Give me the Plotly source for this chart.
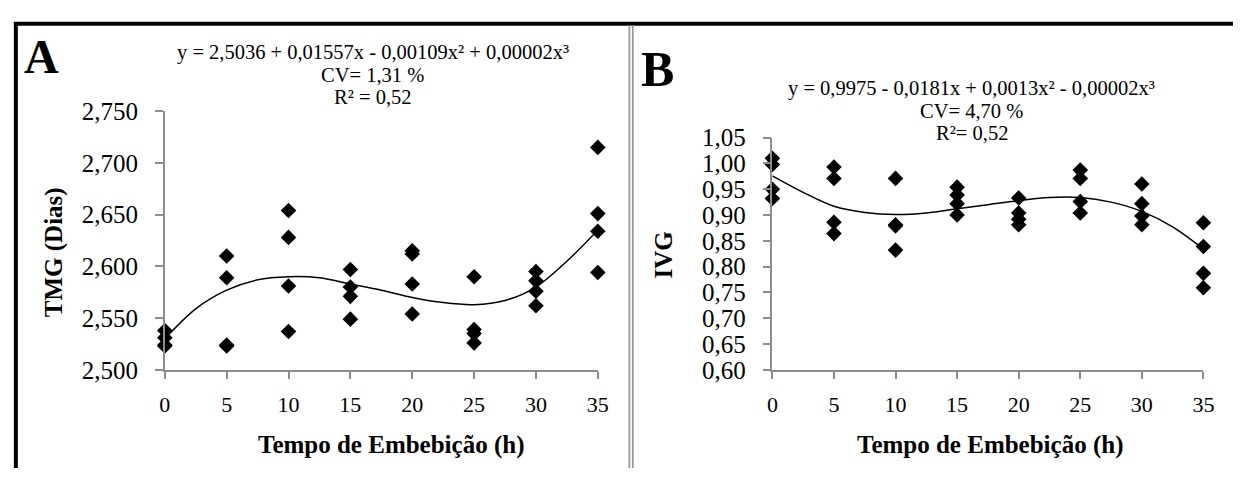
import plotly.graph_objects as go

# ---------------- data ----------------
tempo = [0, 5, 10, 15, 20, 25, 30, 35]

tmg_rep1 = [2.538, 2.610, 2.654, 2.597, 2.615, 2.590, 2.595, 2.715]
tmg_rep2 = [2.531, 2.589, 2.628, 2.580, 2.612, 2.539, 2.586, 2.651]
tmg_rep3 = [2.524, 2.524, 2.581, 2.571, 2.583, 2.535, 2.576, 2.634]
tmg_rep4 = [2.523, 2.523, 2.537, 2.549, 2.554, 2.526, 2.562, 2.594]

ivg_rep1 = [1.010, 0.993, 0.971, 0.954, 0.933, 0.987, 0.960, 0.885]
ivg_rep2 = [0.998, 0.971, 0.881, 0.939, 0.904, 0.971, 0.922, 0.839]
ivg_rep3 = [0.950, 0.886, 0.879, 0.922, 0.892, 0.926, 0.898, 0.787]
ivg_rep4 = [0.932, 0.864, 0.832, 0.900, 0.881, 0.904, 0.881, 0.759]

curve_x = [0, 2.5, 5, 7.5, 10, 12.5, 15, 17.5, 20, 22.5, 25, 27.5, 30, 32.5, 35]
tmg_curve = [2.530, 2.559, 2.577, 2.587, 2.590, 2.589, 2.583, 2.577, 2.570,
             2.565, 2.563, 2.567, 2.580, 2.605, 2.635]
ivg_curve = [0.976, 0.944, 0.917, 0.905, 0.901, 0.904, 0.912, 0.920, 0.928,
             0.934, 0.934, 0.925, 0.907, 0.877, 0.834]

x_ticks = [0, 5, 10, 15, 20, 25, 30, 35]
x_ticktext = ["0", "5", "10", "15", "20", "25", "30", "35"]
tmg_ticks = [2.500, 2.550, 2.600, 2.650, 2.700, 2.750]
tmg_ticktext = ["2,500", "2,550", "2,600", "2,650", "2,700", "2,750"]
ivg_ticks = [0.60, 0.65, 0.70, 0.75, 0.80, 0.85, 0.90, 0.95, 1.00, 1.05]
ivg_ticktext = ["0,60", "0,65", "0,70", "0,75", "0,80", "0,85", "0,90", "0,95", "1,00", "1,05"]

eq_a = ["y = 2,5036 + 0,01557x - 0,00109x² + 0,00002x³", "CV= 1,31 %", "R² = 0,52"]
eq_b = ["y = 0,9975 - 0,0181x + 0,0013x² - 0,00002x³", "CV= 4,70 %", "R²= 0,52"]
x_title = "Tempo de Embebição (h)"
ya_title = "TMG (Dias)"
yb_title = "IVG"

# ---------------- figure ----------------
W, H = 1244, 482
FONT = "Liberation Serif, Times New Roman, serif"
AX = "#8c8c8c"

def px_x(p):
    return p / W

def px_y(p):
    return 1 - p / H

fig = go.Figure()

def add_points(xref, yref, reps):
    xs, ys = [], []
    for r in reps:
        xs += tempo
        ys += r
    fig.add_trace(go.Scatter(x=xs, y=ys, mode="markers", xaxis=xref, yaxis=yref,
                             marker=dict(symbol="diamond", size=12, color="black"),
                             cliponaxis=False, showlegend=False))

add_points("x", "y", [tmg_rep1, tmg_rep2, tmg_rep3, tmg_rep4])
fig.add_trace(go.Scatter(x=curve_x, y=tmg_curve, mode="lines", xaxis="x", yaxis="y",
                         line=dict(color="black", width=1.5, shape="spline"),
                         cliponaxis=False, showlegend=False))
add_points("x2", "y2", [ivg_rep1, ivg_rep2, ivg_rep3, ivg_rep4])
fig.add_trace(go.Scatter(x=curve_x, y=ivg_curve, mode="lines", xaxis="x2", yaxis="y2",
                         line=dict(color="black", width=1.5, shape="spline"),
                         cliponaxis=False, showlegend=False))

common_x = dict(range=[0, 35], tickvals=x_ticks, ticktext=x_ticktext, showgrid=False,
                zeroline=False, showline=True, linecolor=AX, linewidth=1.5,
                ticks="outside", ticklen=7, tickcolor=AX, tickwidth=1.5,
                tickfont=dict(family=FONT, size=22, color="black"),
                ticklabelstandoff=7)
common_y = dict(showgrid=False, zeroline=False, showline=True, linecolor=AX, linewidth=1.5,
                ticks="outside", ticklen=8, tickcolor=AX, tickwidth=1.5,
                ticklabelstandoff=12,
                tickfont=dict(family=FONT, size=25, color="black"))

fig.update_layout(
    width=W, height=H, margin=dict(l=0, r=0, t=0, b=0),
    paper_bgcolor="white", plot_bgcolor="white",
    xaxis=dict(domain=[px_x(161), px_x(600)], anchor="y", **common_x),
    yaxis=dict(domain=[px_y(378), px_y(104)], anchor="x", range=[2.5, 2.75],
               tickvals=tmg_ticks, ticktext=tmg_ticktext, **common_y),
    xaxis2=dict(domain=[px_x(777), px_x(1214)], anchor="y2", **common_x),
    yaxis2=dict(domain=[px_y(378), px_y(132)], anchor="x2", range=[0.6, 1.05],
                tickvals=ivg_ticks, ticktext=ivg_ticktext, **common_y),
)

ann = []
def text(x, y, s, size, bold=False, angle=0):
    ann.append(dict(x=px_x(x), y=px_y(y), xref="paper", yref="paper", text=s,
                    showarrow=False, xanchor="center", yanchor="middle", textangle=angle,
                    font=dict(family=FONT, size=size, color="black",
                              weight="bold" if bold else "normal")))

text(36, 46, "A", 48, bold=True)
text(661, 59, "B", 50, bold=True)
for i, s in enumerate(eq_a):
    text(372, 42 + 23.5 * i, s, 20.5)
for i, s in enumerate(eq_b):
    text(979, 80.5 + 23.5 * i, s, 20.5)
text(390, 458, x_title, 25, bold=True)
text(998, 458, x_title, 25, bold=True)
text(48, 253, ya_title, 25, bold=True, angle=-90)
text(667, 256, yb_title, 25, bold=True, angle=-90)
fig.update_layout(annotations=ann)

# frame
shapes = [
    dict(type="line", xref="paper", yref="paper", x0=px_x(8), x1=1, y0=px_y(11.5), y1=px_y(11.5),
         line=dict(color="black", width=4)),
    dict(type="line", xref="paper", yref="paper", x0=px_x(10), x1=px_x(10), y0=px_y(10), y1=0,
         line=dict(color="black", width=4)),
    dict(type="line", xref="paper", yref="paper", x0=px_x(632), x1=px_x(632), y0=px_y(13), y1=0,
         line=dict(color="#9a9a9a", width=1.8)),
    dict(type="line", xref="paper", yref="paper", x0=px_x(635.5), x1=px_x(635.5), y0=px_y(13), y1=0,
         line=dict(color="#9a9a9a", width=1.8)),
]
fig.update_layout(shapes=shapes)

fig.write_html("out.html")
